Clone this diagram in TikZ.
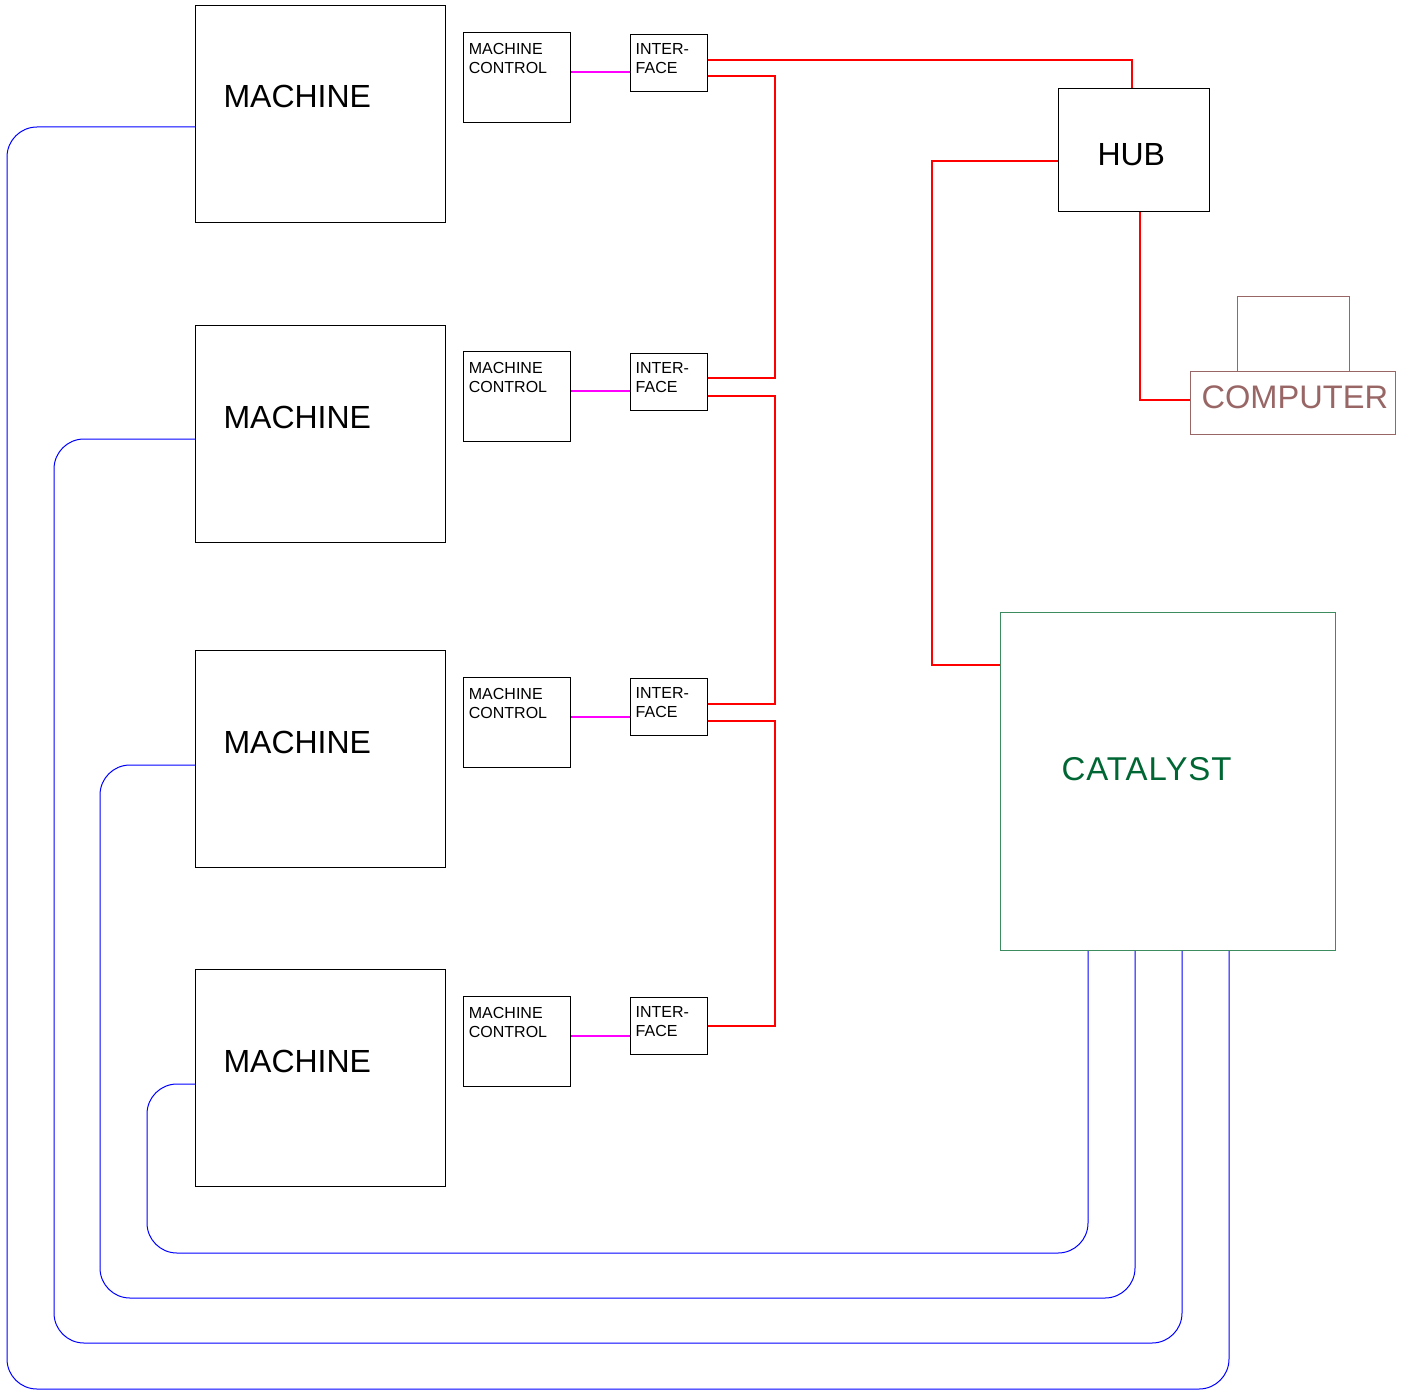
\documentclass[tikz,border=0pt]{standalone}
\usepackage{fontspec}
\setmainfont{Liberation Sans}
\usetikzlibrary{calc}
\definecolor{wirered}{RGB}{255,0,0}
\definecolor{wireblue}{RGB}{0,0,255}
\definecolor{wiremag}{RGB}{255,0,255}
\definecolor{compbrown}{RGB}{153,102,102}
\definecolor{catline}{RGB}{60,140,95}
\definecolor{catgreen}{RGB}{0,102,51}
\begin{document}
\begin{tikzpicture}[x=0.5pt,y=-0.5pt,line width=0.5pt,%
% common options for boxes:
box/.style = {draw, anchor=north west, inner sep=0},
machine/.style = {box, minimum width=125pt, minimum height=108.5pt},
mcontrol/.style = {box, minimum width=53.5pt, minimum height=45pt},
iface/.style = {box, minimum width=38.5pt, minimum height=28.5pt},
% common options for the texts:
bigtxt/.style = {anchor=base west, inner sep=0, font=\fontsize{16}{19}\selectfont},
smalltxt/.style = {anchor=base west, inner sep=0, align=left, font=\fontsize{8}{9.5}\selectfont},
% common options for the wires:
net/.style = {draw=wirered, line width=0.6pt},
bus/.style = {draw=wireblue, rounded corners=15pt},
link/.style = {draw=wiremag, line width=0.6pt}]
\useasboundingbox (0,0) rectangle (1406,1391);
% machines
\node[machine] (m1) at (195,5) {};
\node[machine] (m2) at (195,325) {};
\node[machine] (m3) at (195,650) {};
\node[machine] (m4) at (195,969) {};
\node[bigtxt] (m1t) at ([xshift=14pt,yshift=-51.5pt]m1.north west) {MACHINE};
\node[bigtxt] (m2t) at ([xshift=14pt,yshift=-51.5pt]m2.north west) {MACHINE};
\node[bigtxt] (m3t) at ([xshift=14pt,yshift=-51.5pt]m3.north west) {MACHINE};
\node[bigtxt] (m4t) at ([xshift=14pt,yshift=-51.5pt]m4.north west) {MACHINE};
% machine controls
\node[mcontrol] (mc1) at (463,32) {};
\node[mcontrol] (mc2) at (463,351) {};
\node[mcontrol] (mc3) at (463,677) {};
\node[mcontrol] (mc4) at (463,996) {};
\node[smalltxt] (mc1t) at ([xshift=2.7pt,yshift=-20.7pt]mc1.north west) {MACHINE\\CONTROL};
\node[smalltxt] (mc2t) at ([xshift=2.7pt,yshift=-20.7pt]mc2.north west) {MACHINE\\CONTROL};
\node[smalltxt] (mc3t) at ([xshift=2.7pt,yshift=-20.7pt]mc3.north west) {MACHINE\\CONTROL};
\node[smalltxt] (mc4t) at ([xshift=2.7pt,yshift=-20.7pt]mc4.north west) {MACHINE\\CONTROL};
% interfaces
\node[iface] (if1) at (630,34) {};
\node[iface] (if2) at (630,353) {};
\node[iface] (if3) at (630,678) {};
\node[iface] (if4) at (630,997) {};
\node[smalltxt] (if1t) at ([xshift=2.6pt,yshift=-19.7pt]if1.north west) {INTER-\\FACE};
\node[smalltxt] (if2t) at ([xshift=2.6pt,yshift=-19.7pt]if2.north west) {INTER-\\FACE};
\node[smalltxt] (if3t) at ([xshift=2.6pt,yshift=-19.7pt]if3.north west) {INTER-\\FACE};
\node[smalltxt] (if4t) at ([xshift=2.6pt,yshift=-19.7pt]if4.north west) {INTER-\\FACE};
% hub, computer, catalyst
\node[box, minimum width=75.5pt, minimum height=61.5pt] (hub) at (1058,88) {};
\node[bigtxt] (hubt) at ([xshift=19.5pt,yshift=-39pt]hub.north west) {HUB};
\node[box, draw=compbrown, minimum width=56pt, minimum height=37.5pt] (scr) at (1237,296) {};
\node[box, draw=compbrown, minimum width=102.5pt, minimum height=31.5pt] (comp) at (1190,371) {};
\node[bigtxt, text=compbrown, font=\fontsize{16.3}{19}\selectfont] (compt) at ([xshift=5.5pt,yshift=-18.5pt]comp.north west) {COMPUTER};
\node[box, draw=catline, minimum width=167.5pt, minimum height=169pt] (cat) at (1000,612) {};
\node[bigtxt, text=catgreen, font=\fontsize{16.5}{19}\selectfont\addfontfeature{LetterSpace=3}] (catt) at ([xshift=30.5pt,yshift=-84pt]cat.north west) {CATALYST};
% control to interface
\draw[link] ([yshift=-20pt]mc1.north east) -- ([yshift=-20pt]mc1.north east -| if1.west);
\draw[link] ([yshift=-20pt]mc2.north east) -- ([yshift=-20pt]mc2.north east -| if2.west);
\draw[link] ([yshift=-20pt]mc3.north east) -- ([yshift=-20pt]mc3.north east -| if3.west);
\draw[link] ([yshift=-20pt]mc4.north east) -- ([yshift=-20pt]mc4.north east -| if4.west);
% network
\draw[net] ([yshift=-13pt]if1.north east) -| ([xshift=-1pt]hub.north);
\draw[net] ([yshift=-21pt]if1.north east) -- ++(33.5pt,0) |- ([yshift=-12.5pt]if2.north east);
\draw[net] ([yshift=-21.5pt]if2.north east) -- ++(33.5pt,0) |- ([yshift=-13pt]if3.north east);
\draw[net] ([yshift=-21.5pt]if3.north east) -- ++(33.5pt,0) |- ([yshift=-14.5pt]if4.north east);
\draw[net] ([yshift=-5.5pt]hub.west) -- ++(-63pt,0) |- ([yshift=-26.5pt]cat.north west);
\draw[net] ([xshift=3pt]hub.south) |- ([yshift=1.5pt]comp.west);
% machines to catalyst
\coordinate (b1) at (7,1389);
\coordinate (b2) at (54,1343);
\coordinate (b3) at (100,1298);
\coordinate (b4) at (147,1253);
\draw[bus] ([yshift=-61pt]m1.north west) -| (b1) -| ([xshift=114.5pt]cat.south west);
\draw[bus] ([yshift=-57pt]m2.north west) -| (b2) -| ([xshift=91pt]cat.south west);
\draw[bus] ([yshift=-57.5pt]m3.north west) -| (b3) -| ([xshift=67.5pt]cat.south west);
\draw[bus] ([yshift=-57.5pt]m4.north west) -| (b4) -| ([xshift=44pt]cat.south west);
\end{tikzpicture}
\end{document}
